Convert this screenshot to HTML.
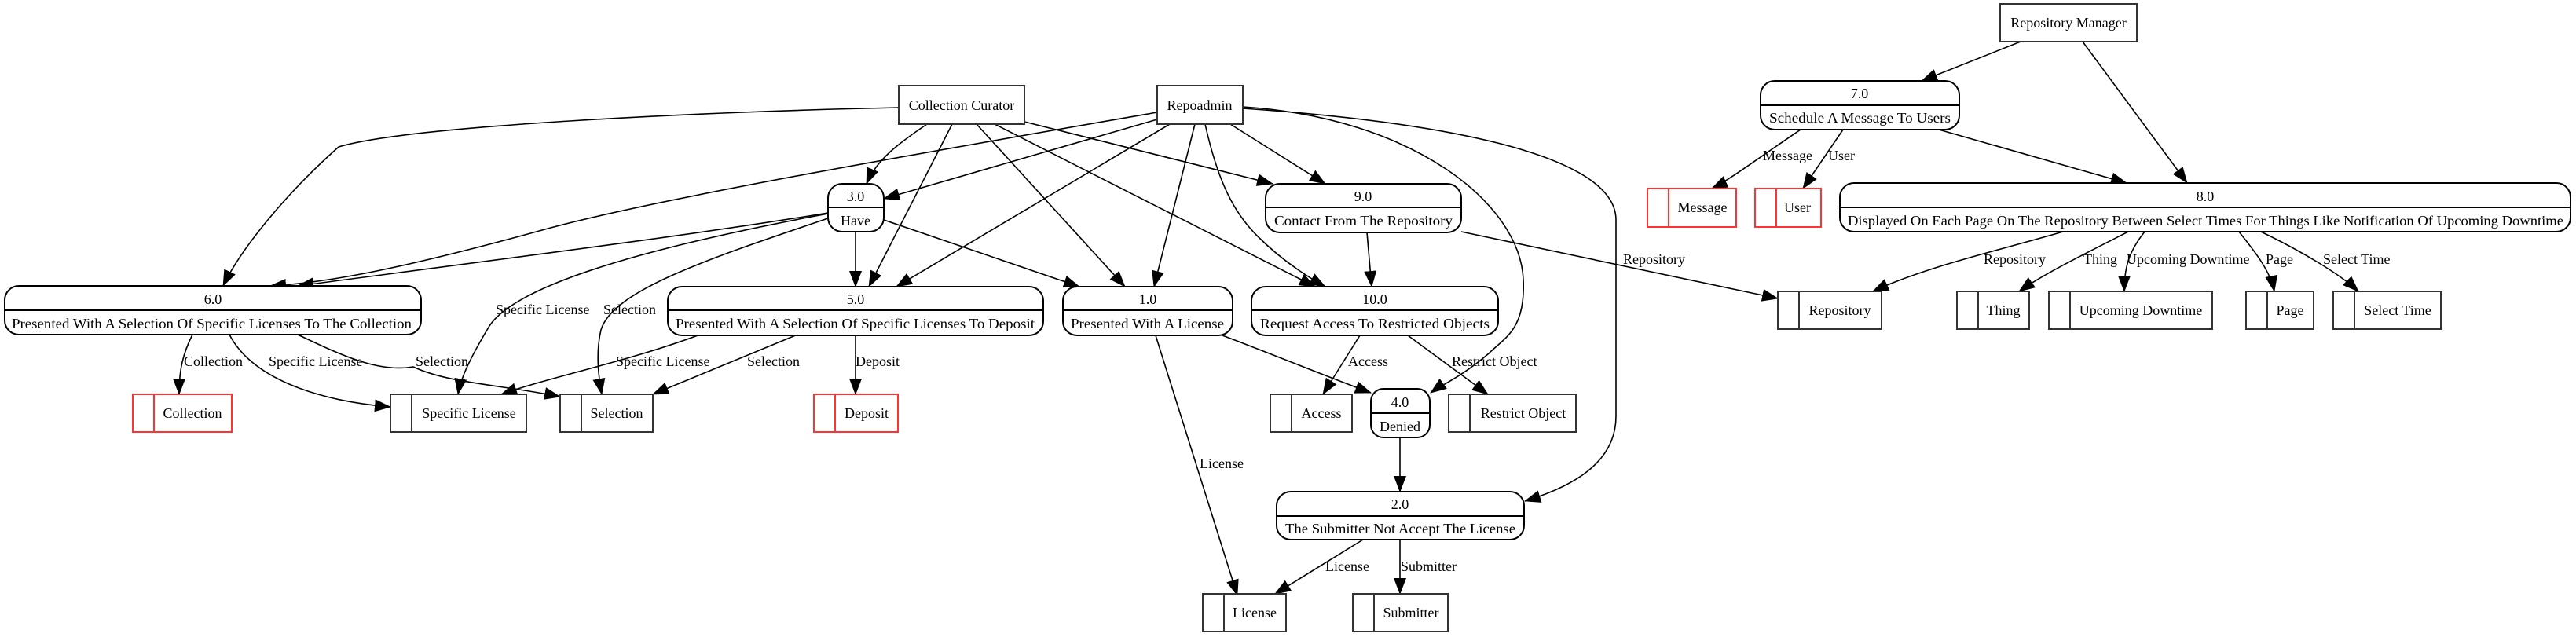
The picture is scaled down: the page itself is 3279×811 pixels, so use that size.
<!DOCTYPE html>
<html><head><meta charset="utf-8"><style>
html,body{margin:0;padding:0;background:#fff;}
svg{display:block;}
text{font-family:"Liberation Serif",serif;font-size:18px;fill:#000;}
.p{fill:#fff;stroke:#000;stroke-width:2;}
.s{fill:#fff;stroke:#333;stroke-width:2;}
.r{fill:#fff;stroke:#f33;stroke-width:2;}
.e{fill:none;stroke:#000;stroke-width:1.6;}
</style></head><body>
<svg width="3279" height="811" viewBox="0 0 3279 811" xmlns="http://www.w3.org/2000/svg">
<defs><marker id="a" markerUnits="userSpaceOnUse" markerWidth="22" markerHeight="16" refX="20" refY="8" orient="auto"><path d="M0,0 L21,8 L0,16 Z" fill="#000"/></marker></defs>

<g class="e" marker-end="url(#a)">
<path d="M1144,137 C900,142 520,160 431,187 C360,250 305,320 284,364"/>
<path d="M1180,158 C1140,185 1115,205 1103,234"/>
<path d="M1212,158 L1106,365"/>
<path d="M1243,158 L1432,365"/>
<path d="M1266,158 L1674,365"/>
<path d="M1304,155 L1620,234"/>
<path d="M1473,143 C1200,190 850,250 701,290 C520,340 420,360 344,364"/>
<path d="M1473,152 L1125,253"/>
<path d="M1489,158 L1141,365"/>
<path d="M1521,158 L1469,365"/>
<path d="M1534,158 C1550,230 1570,270 1600,300 C1630,330 1660,350 1687,365"/>
<path d="M1566,158 L1687,234"/>
<path d="M1582,136 C1800,150 1935,260 1939,356 C1942,420 1915,430 1895,450 C1860,480 1835,490 1821,500"/>
<path d="M1582,138 C1900,160 2057,210 2057,280 L2057,530 C2057,590 2000,620 1941,638"/>
<path d="M1054,271 C880,300 560,340 379,364"/>
<path d="M1089,295 L1089,365"/>
<path d="M1125,280 L1374,365"/>
<path d="M1054,272 C850,310 650,360 620,420 C590,470 585,490 583,502"/>
<path d="M1054,278 C900,330 780,370 765,420 C758,450 762,480 766,502"/>
<path d="M245,426 C233,450 228,470 228,502"/>
<path d="M292,426 C320,480 400,510 497,518"/>
<path d="M379,426 C430,450 480,475 526,467 C570,488 640,490 713,505"/>
<path d="M891,426 C800,460 700,480 638,502"/>
<path d="M1015,426 L831,502"/>
<path d="M1089,426 L1089,502"/>
<path d="M1556,427 C1630,455 1690,480 1745,500"/>
<path d="M1471,427 L1575,758"/>
<path d="M1731,427 L1684,502"/>
<path d="M1792,427 L1894,502"/>
<path d="M1740,296 L1746,365"/>
<path d="M1860,295 L2263,380"/>
<path d="M1782,557 L1782,626"/>
<path d="M1735,687 L1623,756"/>
<path d="M1782,687 L1782,756"/>
<path d="M2572,53 L2446,103"/>
<path d="M2651,53 L2784,233"/>
<path d="M2468,165 L2707,233"/>
<path d="M2292,165 C2240,200 2200,230 2179,240"/>
<path d="M2346,165 L2295,240"/>
<path d="M2626,295 C2540,320 2450,340 2384,371"/>
<path d="M2709,295 C2640,330 2600,350 2570,371"/>
<path d="M2730,295 C2710,320 2704,340 2704,371"/>
<path d="M2850,295 C2870,320 2890,345 2895,371"/>
<path d="M2878,295 C2930,320 2980,350 3002,371"/>
</g>

<rect class="s" x="1144" y="109" width="160" height="49"/><text x="1224" y="140" text-anchor="middle">Collection Curator</text>
<rect class="s" x="1473" y="109" width="109" height="49"/><text x="1527" y="140" text-anchor="middle">Repoadmin</text>
<rect class="s" x="2546" y="5" width="174" height="48"/><text x="2633" y="35" text-anchor="middle">Repository Manager</text>

<g>
<rect class="p" x="6" y="364" width="530" height="62" rx="18"/><line class="p" x1="6" y1="395" x2="536" y2="395"/>
<text x="271" y="387" text-anchor="middle">6.0</text><text x="15" y="418" textLength="509" lengthAdjust="spacingAndGlyphs">Presented With A Selection Of Specific Licenses To The Collection</text>

<rect class="p" x="1054" y="234" width="71" height="61" rx="18"/><line class="p" x1="1054" y1="264" x2="1125" y2="264"/>
<text x="1089" y="256" text-anchor="middle">3.0</text><text x="1089" y="287" text-anchor="middle">Have</text>

<rect class="p" x="850" y="365" width="478" height="62" rx="18"/><line class="p" x1="850" y1="395" x2="1328" y2="395"/>
<text x="1089" y="387" text-anchor="middle">5.0</text><text x="860" y="418" textLength="457" lengthAdjust="spacingAndGlyphs">Presented With A Selection Of Specific Licenses To Deposit</text>

<rect class="p" x="1353" y="365" width="216" height="62" rx="18"/><line class="p" x1="1353" y1="395" x2="1569" y2="395"/>
<text x="1461" y="387" text-anchor="middle">1.0</text><text x="1363" y="418" textLength="195" lengthAdjust="spacingAndGlyphs">Presented With A License</text>

<rect class="p" x="1593" y="365" width="314" height="62" rx="18"/><line class="p" x1="1593" y1="395" x2="1907" y2="395"/>
<text x="1750" y="387" text-anchor="middle">10.0</text><text x="1604" y="418" textLength="292" lengthAdjust="spacingAndGlyphs">Request Access To Restricted Objects</text>

<rect class="p" x="1611" y="234" width="249" height="62" rx="18"/><line class="p" x1="1611" y1="264" x2="1860" y2="264"/>
<text x="1735" y="256" text-anchor="middle">9.0</text><text x="1622" y="287" textLength="227" lengthAdjust="spacingAndGlyphs">Contact From The Repository</text>

<rect class="p" x="1745" y="495" width="75" height="62" rx="16"/><line class="p" x1="1745" y1="526" x2="1820" y2="526"/>
<text x="1782" y="518" text-anchor="middle">4.0</text><text x="1782" y="549" text-anchor="middle">Denied</text>

<rect class="p" x="1625" y="626" width="315" height="61" rx="18"/><line class="p" x1="1625" y1="657" x2="1940" y2="657"/>
<text x="1782" y="648" text-anchor="middle">2.0</text><text x="1636" y="679" textLength="293" lengthAdjust="spacingAndGlyphs">The Submitter Not Accept The License</text>

<rect class="p" x="2241" y="103" width="253" height="62" rx="18"/><line class="p" x1="2241" y1="134" x2="2494" y2="134"/>
<text x="2367" y="125" text-anchor="middle">7.0</text><text x="2252" y="156" textLength="231" lengthAdjust="spacingAndGlyphs">Schedule A Message To Users</text>

<rect class="p" x="2342" y="233" width="930" height="62" rx="18"/><line class="p" x1="2342" y1="264" x2="3272" y2="264"/>
<text x="2807" y="256" text-anchor="middle">8.0</text><text x="2352" y="287" textLength="911" lengthAdjust="spacingAndGlyphs">Displayed On Each Page On The Repository Between Select Times For Things Like Notification Of Upcoming Downtime</text>
</g>

<g>
<rect class="r" x="169" y="502" width="126" height="48"/><line class="r" x1="196" y1="502" x2="196" y2="550"/><text x="245" y="532" text-anchor="middle">Collection</text>
<rect class="s" x="497" y="502" width="173" height="48"/><line class="s" x1="524" y1="502" x2="524" y2="550"/><text x="597" y="532" text-anchor="middle">Specific License</text>
<rect class="s" x="713" y="502" width="118" height="48"/><line class="s" x1="740" y1="502" x2="740" y2="550"/><text x="785" y="532" text-anchor="middle">Selection</text>
<rect class="r" x="1036" y="502" width="107" height="48"/><line class="r" x1="1063" y1="502" x2="1063" y2="550"/><text x="1103" y="532" text-anchor="middle">Deposit</text>
<rect class="s" x="1617" y="502" width="104" height="48"/><line class="s" x1="1644" y1="502" x2="1644" y2="550"/><text x="1682" y="532" text-anchor="middle">Access</text>
<rect class="s" x="1844" y="502" width="162" height="48"/><line class="s" x1="1871" y1="502" x2="1871" y2="550"/><text x="1939" y="532" text-anchor="middle">Restrict Object</text>
<rect class="s" x="1531" y="756" width="106" height="48"/><line class="s" x1="1558" y1="756" x2="1558" y2="804"/><text x="1597" y="786" text-anchor="middle">License</text>
<rect class="s" x="1722" y="756" width="121" height="48"/><line class="s" x1="1749" y1="756" x2="1749" y2="804"/><text x="1796" y="786" text-anchor="middle">Submitter</text>
<rect class="r" x="2097" y="240" width="113" height="49"/><line class="r" x1="2124" y1="240" x2="2124" y2="289"/><text x="2167" y="270" text-anchor="middle">Message</text>
<rect class="r" x="2234" y="240" width="84" height="49"/><line class="r" x1="2261" y1="240" x2="2261" y2="289"/><text x="2288" y="270" text-anchor="middle">User</text>
<rect class="s" x="2263" y="371" width="132" height="48"/><line class="s" x1="2290" y1="371" x2="2290" y2="419"/><text x="2342" y="401" text-anchor="middle">Repository</text>
<rect class="s" x="2491" y="371" width="92" height="48"/><line class="s" x1="2518" y1="371" x2="2518" y2="419"/><text x="2550" y="401" text-anchor="middle">Thing</text>
<rect class="s" x="2608" y="371" width="208" height="48"/><line class="s" x1="2635" y1="371" x2="2635" y2="419"/><text x="2725" y="401" text-anchor="middle">Upcoming Downtime</text>
<rect class="s" x="2859" y="371" width="86" height="48"/><line class="s" x1="2886" y1="371" x2="2886" y2="419"/><text x="2915" y="401" text-anchor="middle">Page</text>
<rect class="s" x="2970" y="371" width="137" height="48"/><line class="s" x1="2997" y1="371" x2="2997" y2="419"/><text x="3052" y="401" text-anchor="middle">Select Time</text>
</g>

<g>
<text x="234" y="466">Collection</text>
<text x="342" y="466">Specific License</text>
<text x="529" y="466">Selection</text>
<text x="631" y="400">Specific License</text>
<text x="768" y="400">Selection</text>
<text x="784" y="466">Specific License</text>
<text x="951" y="466">Selection</text>
<text x="1089" y="466">Deposit</text>
<text x="1716" y="466">Access</text>
<text x="1848" y="466">Restrict Object</text>
<text x="1527" y="596">License</text>
<text x="1687" y="727">License</text>
<text x="1783" y="727">Submitter</text>
<text x="2066" y="336">Repository</text>
<text x="2244" y="204">Message</text>
<text x="2327" y="204">User</text>
<text x="2525" y="336">Repository</text>
<text x="2652" y="336">Thing</text>
<text x="2707" y="336">Upcoming Downtime</text>
<text x="2884" y="336">Page</text>
<text x="2957" y="336">Select Time</text>
</g>
</svg>
</body></html>
